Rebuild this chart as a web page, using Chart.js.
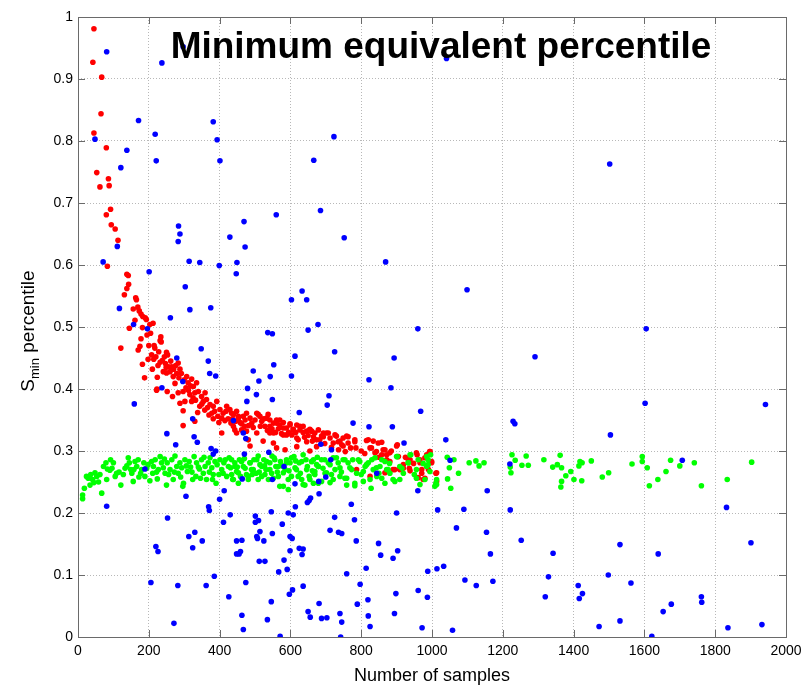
<!DOCTYPE html>
<html>
<head>
<meta charset="utf-8">
<script src="https://cdn.jsdelivr.net/npm/chart.js@4.4.0/dist/chart.umd.min.js"></script>
<style>
  html, body { margin: 0; padding: 0; background: #fff; }
  #wrap { width: 808px; height: 686px; }
</style>
</head>
<body>
<div id="wrap"><canvas id="chart"></canvas></div>
<script>
// axis ticks
const xTicks = [0, 200, 400, 600, 800, 1000, 1200, 1400, 1600, 1800, 2000];
const yTicks = [0, 0.1, 0.2, 0.3, 0.4, 0.5, 0.6, 0.7, 0.8, 0.9, 1];

// [number of samples, S_min percentile]
const bluePts = [
  [81,.944],[237,.926],[297,.952],[171,.833],[218,.811],[48,.803],[382,.831],[393,.802],[138,.785],[221,.768],
  [401,.768],[121,.757],[666,.769],[284,.663],[469,.670],[560,.681],[685,.688],[1041,.933],[723,.807],[1502,.763],
  [288,.650],[283,.638],[429,.645],[472,.629],[71,.605],[111,.630],[314,.606],[344,.604],[399,.599],[449,.604],
  [447,.586],[201,.589],[303,.565],[603,.544],[633,.558],[646,.544],[117,.530],[316,.528],[375,.531],[261,.515],
  [157,.504],[196,.497],[650,.495],[678,.504],[536,.491],[549,.489],[348,.465],[613,.453],[279,.450],[368,.445],
  [553,.439],[495,.429],[372,.425],[389,.421],[543,.420],[603,.421],[511,.413],[479,.401],[237,.402],[296,.412],
  [504,.391],[549,.383],[477,.380],[159,.376],[625,.362],[324,.352],[251,.328],[328,.323],[467,.329],[474,.320],
  [752,.644],[869,.605],[1099,.560],[960,.497],[725,.460],[893,.450],[1291,.452],[822,.415],[884,.402],[709,.389],
  [704,.374],[968,.364],[777,.345],[822,.339],[888,.339],[1229,.348],[1234,.344],[1039,.318],[1605,.497],[1602,.377],
  [1942,.375],[1504,.326],[439,.349],[686,.311],[716,.302],[539,.298],[470,.295],[714,.286],[582,.275],[613,.247],
  [700,.258],[464,.255],[549,.254],[844,.264],[921,.313],[1051,.285],[337,.314],[276,.310],[376,.304],[389,.300],
  [382,.295],[189,.271],[413,.236],[305,.227],[81,.211],[400,.222],[369,.210],[371,.204],[253,.192],[411,.185],
  [430,.197],[501,.195],[501,.185],[510,.188],[546,.202],[577,.182],[594,.200],[608,.197],[614,.210],[648,.217],
  [681,.231],[657,.224],[653,.220],[313,.162],[330,.169],[324,.144],[351,.155],[220,.146],[226,.138],[448,.155],
  [463,.156],[459,.138],[448,.134],[455,.134],[505,.162],[507,.159],[514,.170],[525,.155],[549,.167],[512,.122],
  [528,.122],[599,.162],[605,.159],[599,.139],[625,.143],[636,.142],[633,.133],[582,.124],[591,.109],[567,.105],
  [385,.098],[206,.088],[282,.083],[362,.083],[474,.088],[636,.082],[606,.076],[597,.069],[426,.065],[546,.057],
  [681,.054],[650,.041],[656,.032],[463,.035],[535,.028],[271,.022],[467,.012],[571,.001],
  [680,.251],[960,.236],[1156,.236],[772,.214],[900,.200],[1016,.205],[1090,.206],[1221,.205],[725,.193],[781,.189],
  [712,.172],[736,.169],[745,.167],[786,.155],[1069,.176],[1154,.169],[1252,.156],[849,.151],[855,.132],[903,.139],
  [890,.127],[1165,.134],[1342,.135],[814,.111],[759,.102],[988,.106],[1014,.110],[1033,.114],[797,.085],[1093,.092],
  [1125,.083],[1172,.090],[1329,.097],[1320,.065],[898,.070],[961,.075],[987,.064],[819,.060],[789,.053],[894,.038],
  [820,.034],[740,.038],[688,.030],[703,.031],[745,.024],[825,.017],[972,.015],[1058,.011],[742,.000],[1220,.279],
  [1707,.285],[1832,.209],[1531,.149],[1639,.134],[1901,.152],[1498,.100],[1562,.087],[1413,.083],[1425,.070],[1416,.062],
  [1761,.065],[1762,.056],[1676,.053],[1653,.041],[1531,.026],[1472,.017],[1836,.015],[1932,.020],[1621,.001]
];

const redPts = [
  [45,.981],[42,.927],[67,.903],[65,.844],[45,.813],[80,.789],[53,.749],[86,.739],[62,.726],[88,.728],
  [92,.690],[80,.681],[94,.665],[105,.658],[113,.640],[83,.598],[138,.585],[142,.583],[143,.569],[138,.562],
  [131,.552],[163,.547],[165,.544],[156,.529],[169,.532],[173,.526],[178,.521],[161,.511],[183,.517],[190,.515],
  [193,.512],[145,.498],[182,.499],[203,.504],[212,.506],[205,.490],[121,.466],[178,.481],[175,.469],[170,.463],
  [182,.440],[188,.418],[234,.484],[232,.478],[215,.470],[217,.466],[235,.476],[214,.448],[224,.419],[223,.400],
  [222,.398],[250,.459],[253,.455],[232,.443],[247,.441],[250,.426],[249,.435],[241,.428],[256,.436],[260,.428],
  [265,.436],[269,.420],[279,.425],[283,.442],[288,.432],[274,.409],[252,.396],[267,.388],[283,.394],[288,.377],
  [302,.380],[307,.420],[311,.410],[321,.416],[326,.404],[335,.410],[297,.396],[316,.391],[330,.394],[340,.396],
  [349,.388],[359,.394],[354,.380],[363,.383],[321,.380],[297,.365],[338,.362],[330,.348],[297,.341],[373,.375],
  [382,.372],[392,.380],[378,.361],[382,.352],[401,.367],[410,.361],[406,.353],[420,.372],[429,.367],[439,.359],
  [424,.352],[448,.364],[453,.353],[458,.346],[467,.356],[476,.361],[486,.353],[491,.345],[505,.361],[514,.356],
  [519,.348],[528,.340],[537,.359],[542,.350],[552,.345],[561,.350],[570,.342],[580,.346],[589,.337],[599,.344],
  [608,.335],[618,.342],[627,.334],[636,.340],[646,.332],[655,.335],[669,.329],[679,.334],[406,.329],[443,.334],
  [476,.332],[505,.329],[542,.329],[580,.326],[509,.359],[533,.353],[542,.340],[552,.329],[561,.345],[570,.350],
  [580,.337],[589,.326],[599,.342],[608,.334],[618,.321],[627,.340],[636,.330],[646,.315],[655,.334],[665,.323],
  [674,.307],[683,.318],[693,.329],[655,.300],[585,.302],[552,.313],[523,.316],[561,.305],[618,.307],[486,.308],
  [481,.318],[448,.329],[439,.340],[462,.334],[434,.361],[453,.356],[472,.350],
  [702,.329],[712,.321],[721,.313],[730,.324],[740,.316],[749,.308],[759,.324],[763,.313],[782,.318],[785,.305],
  [815,.317],[825,.305],[834,.316],[843,.299],[858,.314],[862,.302],[872,.294],[881,.283],[900,.308],[905,.291],
  [919,.272],[938,.286],[956,.297],[966,.286],[971,.270],[975,.254],[985,.294],[994,.299],[999,.281],[1013,.265],
  [961,.257],[825,.259],[787,.270],[890,.270],[909,.271],[867,.265],[938,.268],
  [660,.332],[674,.318],[693,.323],[707,.329],[726,.326],[735,.315],[749,.321],[745,.310],[763,.323],[782,.315],
  [820,.318],[829,.305],[839,.297],[848,.313],[858,.294],[867,.302],[872,.286],[881,.297],[895,.270],[902,.310],
  [909,.270],[919,.278],[933,.286],[936,.272],[958,.294],[966,.281],[971,.264],[980,.289],[985,.275],[980,.256],
  [994,.299],[999,.283],[1011,.264],[1013,.251],
  [262,.445],[270,.432],[276,.438],[285,.418],[292,.425],[300,.415],[305,.402],[312,.398],[318,.405],[325,.386],
  [332,.382],[344,.372],[350,.376],[358,.366],[366,.370],[370,.358],[386,.364],[395,.356],[398,.346],[415,.349],
  [418,.364],[432,.345],[436,.352],[445,.348],[462,.344],[470,.340],[482,.341],[495,.338],[500,.350],[515,.340],
  [525,.352],[535,.333],[548,.336],[558,.330],[566,.336],[575,.328],[595,.330],[604,.326],[615,.330],[622,.318],
  [640,.322],[650,.325],[662,.316],[688,.324],[697,.312],[716,.306],[736,.302],[755,.299],[770,.305],[800,.300],
  [810,.296],[850,.290],[885,.300],[925,.290],[948,.280],[990,.270],
  [195,.487],[200,.470],[208,.455],[220,.452],[228,.460],[238,.446],[244,.452],[226,.438],[210,.432],[198,.448]
];

const greenPts = [
  [13,.229],[13,.223],[24,.259],[36,.262],[41,.254],[45,.249],[34,.245],[53,.259],[62,.262],[67,.232],
  [79,.281],[83,.271],[81,.254],[92,.286],[90,.269],[105,.259],[109,.264],[121,.245],[133,.272],[142,.289],
  [145,.281],[149,.270],[156,.251],[161,.283],[166,.275],[170,.286],[177,.264],[180,.270],[186,.281],[189,.259],
  [203,.252],[208,.283],[213,.275],[218,.286],[224,.255],[232,.291],[236,.281],[241,.273],[246,.264],[250,.245],
  [252,.281],[260,.270],[265,.286],[274,.292],[279,.275],[283,.264],[288,.281],[296,.243],[298,.248],[302,.286],
  [309,.267],[314,.283],[318,.274],[328,.291],[333,.259],[335,.281],[343,.271],[349,.286],[354,.264],[363,.254],
  [368,.281],[373,.289],[378,.273],[382,.262],[390,.248],[393,.278],[401,.286],[406,.270],[412,.281],[420,.259],
  [427,.289],[431,.273],[439,.254],[443,.281],[448,.267],[456,.286],[459,.259],[467,.275],[476,.262],[481,.254],
  [486,.281],[490,.270],[497,.286],[503,.264],[509,.292],[514,.278],[519,.259],[525,.286],[531,.270],[538,.254],
  [542,.281],[547,.264],[554,.289],[559,.275],[566,.259],[572,.283],[580,.243],[585,.270],[589,.286],[594,.238],
  [599,.281],[603,.259],[610,.291],[617,.270],[625,.281],[632,.254],[636,.294],[641,.245],[648,.275],[653,.259],
  [660,.283],[667,.264],[674,.278],[679,.248],
  [29,.256],[72,.275],[100,.281],[128,.262],[152,.264],[194,.272],[211,.264],[227,.270],[269,.254],[293,.273],
  [324,.254],[346,.256],[359,.275],[387,.283],[410,.264],[425,.275],[453,.248],[462,.283],
  [434,.286],[443,.275],[453,.265],[437,.254],[462,.284],[472,.272],[481,.259],[486,.281],[495,.270],[505,.286],
  [509,.254],[519,.275],[528,.262],[533,.283],[542,.270],[552,.256],[556,.286],[566,.275],[570,.243],[580,.265],
  [589,.281],[594,.254],[603,.289],[613,.273],[622,.259],[632,.283],[636,.246],[646,.270],[655,.254],[665,.286],
  [669,.262],[679,.275],[688,.251],[697,.286],[702,.265],[712,.278],[721,.254],[730,.289],[740,.273],[754,.286],
  [759,.256],[768,.273],[782,.244],[792,.286],[806,.267],[815,.278],[825,.254],[839,.289],[843,.273],[858,.256],
  [867,.283],[876,.270],[890,.254],[900,.291],[909,.275],[938,.294],[933,.281],[956,.270],[961,.286],[985,.291],
  [989,.278],[994,.267],[1013,.254],[1008,.243],
  [660,.283],[669,.267],[665,.248],[679,.275],[688,.286],[698,.264],[707,.281],[712,.249],[721,.289],[726,.270],
  [735,.281],[740,.259],[749,.286],[754,.256],[759,.245],[763,.281],[773,.270],[782,.248],[787,.264],[796,.283],
  [806,.251],[811,.275],[820,.281],[828,.240],[834,.270],[844,.259],[853,.275],[858,.286],[867,.248],[872,.270],
  [881,.264],[895,.251],[902,.291],[909,.254],[919,.264],[933,.281],[940,.294],[956,.256],[966,.246],[980,.254],
  [985,.275],[989,.286],[996,.294],[1011,.248],[1013,.246],[1043,.290],[1049,.273],[1044,.255],[1053,.240],[1062,.286],
  [1075,.264],[1105,.281],[1124,.284],[1133,.276],[1147,.281],[1226,.294],[1221,.274],[1223,.265],[1235,.285],[1254,.277],
  [1266,.292],[1272,.277],[1316,.286],[1341,.274],[1354,.278],[1362,.293],[1366,.273],[1366,.251],[1364,.242],[1378,.260],
  [1392,.267],[1401,.254],[1415,.276],[1418,.283],[1424,.281],[1423,.252],[1450,.284],[1481,.258],[1499,.265],[1565,.279],
  [1594,.291],[1594,.283],[1608,.273],[1614,.244],[1638,.254],[1661,.267],[1674,.285],[1700,.276],[1741,.281],[1761,.244],
  [1834,.254],[1903,.282],
  [18,.240],[48,.265],[58,.250],[96,.272],[116,.266],[138,.276],[158,.270],[172,.258],[198,.278],[222,.266],
  [244,.287],[256,.262],[272,.266],[290,.258],[306,.276],[322,.266],[340,.274],[356,.290],[371,.266],[380,.254],
  [398,.262],[416,.286],[434,.262],[450,.274],[470,.288],[492,.262],[512,.266],[527,.276],[548,.292],[563,.266],
  [577,.276],[596,.268],[615,.284],[628,.264],[644,.286],[662,.268],[676,.290],[692,.272],[716,.262],[744,.266],
  [776,.286],[800,.262],[830,.286],[850,.264],[880,.280],[915,.272],[950,.262],[975,.280]
];

const FONT = '"Liberation Sans", Arial, Helvetica, sans-serif';
const toXY = pts => pts.map(p => ({ x: p[0], y: p[1] }));

function series(pts, color) {
    return {
        data: toXY(pts),
        pointRadius: 2.8,
        pointBorderWidth: 0,
        pointBackgroundColor: color,
        pointHoverRadius: 2.8,
        showLine: false
    };
}

// box, inward ticks, title and axis labels (matlab style)
const frame = {
    id: 'frame',
    afterDatasetsDraw(chart) {
        const { ctx, chartArea: a, scales: { x, y } } = chart;
        ctx.save();
        ctx.strokeStyle = '#6a6a6a';
        ctx.lineWidth = 1;
        ctx.beginPath();
        xTicks.forEach(v => {
            const px = Math.round(x.getPixelForValue(v)) + 0.5;
            ctx.moveTo(px, a.bottom); ctx.lineTo(px, a.bottom - 7);
            ctx.moveTo(px, a.top); ctx.lineTo(px, a.top + 7);
        });
        yTicks.forEach(v => {
            const py = Math.round(y.getPixelForValue(v)) + 0.5;
            ctx.moveTo(a.left, py); ctx.lineTo(a.left + 7, py);
            ctx.moveTo(a.right, py); ctx.lineTo(a.right - 7, py);
        });
        ctx.stroke();
        ctx.strokeRect(Math.round(a.left) + 0.5, Math.round(a.top) + 0.5,
            Math.round(a.right - a.left), Math.round(a.bottom - a.top));

        ctx.fillStyle = '#000';
        ctx.textAlign = 'center';
        ctx.textBaseline = 'alphabetic';
        ctx.font = 'bold 37px ' + FONT;
        ctx.fillText('Minimum equivalent percentile', 441, 58);

        ctx.font = '18px ' + FONT;
        ctx.textBaseline = 'middle';
        ctx.fillText('Number of samples', (a.left + a.right) / 2, 676);

        // y label with subscript
        ctx.translate(34, (a.top + a.bottom) / 2 + 4);
        ctx.rotate(-Math.PI / 2);
        ctx.textAlign = 'left';
        ctx.textBaseline = 'alphabetic';
        const big = '19px ' + FONT, small = '13px ' + FONT;
        ctx.font = big; const wS = ctx.measureText('S').width;
        const wRest = ctx.measureText(' percentile').width;
        ctx.font = small; const wMin = ctx.measureText('min').width;
        let cx = -(wS + wMin + wRest) / 2;
        ctx.font = big; ctx.fillText('S', cx, 0); cx += wS;
        ctx.font = small; ctx.fillText('min', cx, 5); cx += wMin;
        ctx.font = big; ctx.fillText(' percentile', cx, 0);
        ctx.restore();
    }
};

const gridOpts = { color: '#b8b8b8', drawTicks: false };
const borderOpts = { display: false, dash: [1, 2] };
const tickFont = { family: FONT, size: 14 };

new Chart(document.getElementById('chart'), {
    type: 'scatter',
    data: {
        datasets: [
            series(bluePts, '#0000ff'),
            series(greenPts, '#00ff00'),
            series(redPts, '#ff0000')
        ]
    },
    options: {
        responsive: true,
        maintainAspectRatio: false,
        animation: false,
        events: [],
        layout: { padding: { top: 17, right: 22, left: 0, bottom: 0 } },
        plugins: { legend: { display: false }, tooltip: { enabled: false } },
        scales: {
            x: {
                type: 'linear', min: 0, max: 2000,
                afterBuildTicks: s => { s.ticks = xTicks.map(v => ({ value: v })); },
                afterFit: s => { s.height = 49; },
                grid: gridOpts, border: borderOpts,
                ticks: { padding: 6, color: '#000', font: tickFont, maxRotation: 0, autoSkip: false,
                    callback: v => String(v) }
            },
            y: {
                type: 'linear', min: 0, max: 1,
                afterBuildTicks: s => { s.ticks = yTicks.map(v => ({ value: v })); },
                afterFit: s => { s.width = 78; },
                grid: gridOpts, border: borderOpts,
                ticks: { padding: 5, color: '#000', font: tickFont, autoSkip: false,
                    callback: v => String(+v.toFixed(1)) }
            }
        }
    },
    plugins: [frame]
});
</script>
</body>
</html>
